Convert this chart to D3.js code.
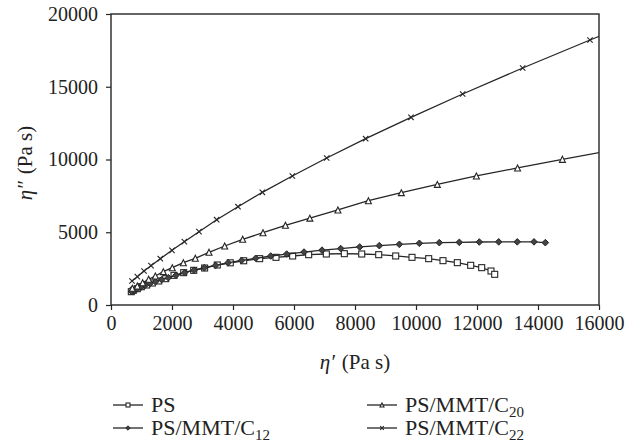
<!DOCTYPE html>
<html>
<head>
<meta charset="utf-8">
<script src="https://cdn.jsdelivr.net/npm/d3@7"></script>
<style>
  body { margin: 0; background: #fff; }
  svg { display: block; font-family: "Liberation Serif", "DejaVu Serif", serif; }
</style>
</head>
<body>
<svg id="chart" width="626" height="442"></svg>
<script>
// eta' (x) and eta'' (y), Pa s
var psX = [666, 731, 862, 994, 1170, 1355, 1564, 1793, 2066, 2383, 2712, 3070, 3485, 3911, 4350, 4874, 5410, 5956, 6481, 7060, 7650, 8220, 8777, 9334, 9869, 10416, 10885, 11355, 11793, 12154, 12459, 12580];
var psY = [915, 1008, 1122, 1259, 1375, 1512, 1650, 1810, 2039, 2223, 2383, 2543, 2750, 2900, 3040, 3185, 3276, 3368, 3459, 3505, 3528, 3505, 3459, 3370, 3276, 3185, 3047, 2910, 2727, 2566, 2337, 2108];

var c12X = [680, 760, 860, 980, 1120, 1280, 1460, 1660, 1880, 2130, 2410, 2720, 3060, 3430, 3840, 4280, 4744, 5236, 5760, 6328, 6918, 7530, 8154, 8797, 9454, 10110, 10764, 11420, 12075, 12711, 13320, 13869, 14240];
var c12Y = [930, 1010, 1110, 1230, 1360, 1480, 1600, 1740, 1880, 2040, 2220, 2390, 2560, 2720, 2900, 3060, 3209, 3368, 3500, 3640, 3770, 3880, 3990, 4080, 4170, 4240, 4285, 4307, 4330, 4340, 4340, 4340, 4285];

var c20X = [700, 863, 1038, 1235, 1454, 1716, 2010, 2372, 2765, 3213, 3727, 4318, 4984, 5720, 6520, 7440, 8440, 9520, 10700, 11980, 13330, 14800, 16400];
var c20Y = [1148, 1306, 1533, 1766, 1993, 2291, 2565, 2907, 3209, 3622, 4055, 4515, 4970, 5480, 5970, 6530, 7170, 7720, 8290, 8870, 9420, 10010, 10620];

var c22X = [689, 863, 1082, 1311, 1617, 2000, 2404, 2885, 3465, 4164, 4962, 5945, 7072, 8350, 9836, 11530, 13498, 15705, 18200];
var c22Y = [1650, 1947, 2337, 2703, 3183, 3758, 4352, 5040, 5863, 6756, 7745, 8866, 10103, 11430, 12900, 14502, 16289, 18213, 20330];

var xTicks = [0, 2000, 4000, 6000, 8000, 10000, 12000, 14000, 16000];
var yTicks = [0, 5000, 10000, 15000, 20000];

var seriesNames = [["PS", ""], ["PS/MMT/C", "12"], ["PS/MMT/C", "20"], ["PS/MMT/C", "22"]];
var seriesMarks = ["square", "diamond", "triangle", "cross"];

var series = [
  { xs: psX, ys: psY },
  { xs: c12X, ys: c12Y },
  { xs: c20X, ys: c20Y },
  { xs: c22X, ys: c22Y }
].map(function(s, i) {
  return {
    mark: seriesMarks[i],
    name: seriesNames[i],
    points: s.xs.map(function(v, j) { return [v, s.ys[j]]; })
  };
});

var svg = d3.select('#chart');
var ink = '#262626';
var plotL = 111, plotR = 599, plotT = 14, plotB = 305;

var x = d3.scaleLinear().domain([0, 16000]).range([plotL, plotR]);
var y = d3.scaleLinear().domain([0, 20000]).range([plotB, plotT]);

svg.append('clipPath').attr('id', 'plot-clip')
  .append('rect')
  .attr('x', plotL).attr('y', plotT)
  .attr('width', plotR - plotL).attr('height', plotB - plotT);

// markers
function drawMark(g, type, size) {
  var s = size;
  if (type === 'square') {
    g.append('rect').attr('x', -s / 2).attr('y', -s / 2).attr('width', s).attr('height', s)
      .attr('fill', '#fff').attr('stroke', ink).attr('stroke-width', 1.1);
  } else if (type === 'diamond') {
    var d = s * 0.55;
    g.append('path').attr('d', 'M0,' + (-d) + 'L' + d + ',0L0,' + d + 'L' + (-d) + ',0Z')
      .attr('fill', '#444').attr('stroke', ink).attr('stroke-width', 1);
  } else if (type === 'triangle') {
    var h = s * 0.5;
    g.append('path').attr('d', 'M0,' + (-h) + 'L' + h + ',' + h + 'L' + (-h) + ',' + h + 'Z')
      .attr('fill', '#fff').attr('stroke', ink).attr('stroke-width', 1.1);
  } else {
    var c = s * 0.45;
    g.append('path').attr('d', 'M' + (-c) + ',' + (-c) + 'L' + c + ',' + c + 'M' + (-c) + ',' + c + 'L' + c + ',' + (-c))
      .attr('fill', 'none').attr('stroke', ink).attr('stroke-width', 1.1);
  }
}

// axes
var xAxis = d3.axisBottom(x).tickValues(xTicks).tickSize(5).tickPadding(6).tickFormat(d3.format('d'));
var yAxis = d3.axisLeft(y).tickValues(yTicks).tickSize(5).tickPadding(8).tickFormat(d3.format('d'));

var gx = svg.append('g').attr('transform', 'translate(0,' + plotB + ')').call(xAxis);
var gy = svg.append('g').attr('transform', 'translate(' + plotL + ',0)').call(yAxis);

[gx, gy].forEach(function(g) {
  g.select('.domain').remove();
  g.selectAll('line').attr('stroke', ink).attr('stroke-width', 1.2);
  g.selectAll('text').attr('fill', '#222').style('font-size', '20px')
    .style('font-family', '"Liberation Serif", serif');
});

svg.append('rect')
  .attr('x', plotL).attr('y', plotT)
  .attr('width', plotR - plotL).attr('height', plotB - plotT)
  .attr('fill', 'none').attr('stroke', ink).attr('stroke-width', 1.4);

// series
var line = d3.line()
  .x(function(d) { return x(d[0]); })
  .y(function(d) { return y(d[1]); });

var plot = svg.append('g').attr('clip-path', 'url(#plot-clip)');

series.forEach(function(s) {
  plot.append('path')
    .datum(s.points)
    .attr('d', line)
    .attr('fill', 'none')
    .attr('stroke', ink)
    .attr('stroke-width', 1.3);

  plot.selectAll(null)
    .data(s.points)
    .enter()
    .append('g')
    .attr('transform', function(d) { return 'translate(' + x(d[0]) + ',' + y(d[1]) + ')'; })
    .each(function() { drawMark(d3.select(this), s.mark, 6); });
});

// axis titles
var xTitle = svg.append('text')
  .attr('x', (plotL + plotR) / 2).attr('y', 369)
  .attr('text-anchor', 'middle')
  .style('font-size', '21px').attr('fill', '#222');
xTitle.append('tspan').style('font-style', 'italic').text('\u03b7\u2032');
xTitle.append('tspan').attr('dx', 7).text('(Pa s)');

var yTitle = svg.append('text')
  .attr('transform', 'translate(32,163) rotate(-90)')
  .attr('text-anchor', 'middle')
  .style('font-size', '21px').attr('fill', '#222');
yTitle.append('tspan').style('font-style', 'italic').text('\u03b7\u2033');
yTitle.append('tspan').attr('dx', 7).text('(Pa s)');

// legend
var legendPos = [[113, 405], [113, 428], [367, 405], [367, 428]];

series.forEach(function(s, i) {
  var p = legendPos[i];
  var g = svg.append('g').attr('transform', 'translate(' + p[0] + ',' + p[1] + ')');
  g.append('line').attr('x1', 0).attr('x2', 30).attr('y1', 0).attr('y2', 0)
    .attr('stroke', ink).attr('stroke-width', 1.3);
  var m = g.append('g').attr('transform', 'translate(15,0)');
  drawMark(m, s.mark, 4);

  var t = g.append('text').attr('x', 38).attr('y', 7)
    .style('font-size', '22px').attr('fill', '#222');
  t.append('tspan').text(s.name[0]);
  if (s.name[1]) {
    t.append('tspan').attr('dy', 5).style('font-size', '15px').text(s.name[1]);
  }
});
</script>
</body>
</html>
